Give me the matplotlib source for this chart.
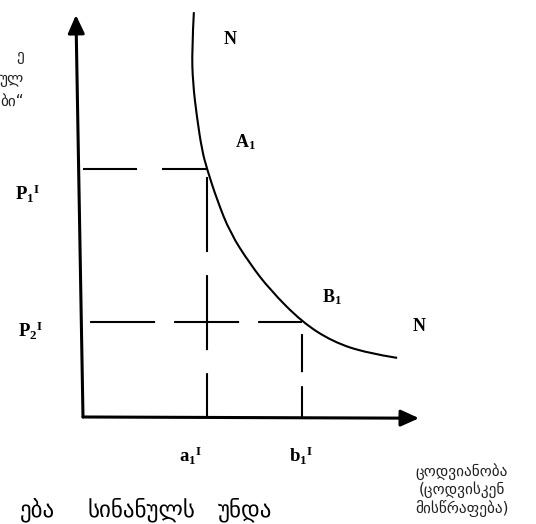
import matplotlib
matplotlib.use('Agg')
import matplotlib.pyplot as plt
from matplotlib.path import Path
from matplotlib.patches import PathPatch

# demand-like curve N (axis units 0..100)
curve_x = [33.0, 32.4, 32.7, 33.9, 35.4, 36.9, 39.9, 43.8, 49.7, 55.7, 65.2, 74.4, 84.5, 93.5]
curve_y = [100.7, 91.3, 83.1, 74.6, 66.4, 61.7, 54.0, 45.8, 38.1, 31.6, 23.6, 18.7, 15.9, 14.7]

# the two marked points on the curve
a1, p1 = 36.9, 61.7
b1, p2 = 65.2, 23.6

# axis end points (the y axis leans a little)
y_axis_top = (-2.1, 100)
x_axis_end = (100, -0.3)

# texts
top_left_lines = ['ე', 'ულ', 'ბი“']
x_caption = ['ცოდვიანობა', '(ცოდვისკენ', 'მისწრაფება)']
bottom_words = ['ება', 'სინანულს', 'უნდა']

plt.rcParams['lines.scale_dashes'] = False
plt.rcParams['mathtext.fontset'] = 'custom'
plt.rcParams['mathtext.rm'] = 'Liberation Serif'
plt.rcParams['mathtext.bf'] = 'Liberation Serif:bold'

fig = plt.figure(figsize=(5.36, 5.24), dpi=100)
ax = fig.add_axes([0, 0, 1, 1])
ax.set_xlim(-24.70, 134.82)
ax.set_ylim(-26.62, 103.73)
ax.axis('off')

# axes with arrow heads
arrow = dict(arrowstyle='-|>,head_length=1.1,head_width=0.5', lw=2.2, color='black',
             shrinkA=0, shrinkB=0, mutation_scale=10)
ax.annotate('', xy=y_axis_top, xytext=(0, 0), arrowprops=arrow)
ax.annotate('', xy=x_axis_end, xytext=(0, 0), arrowprops=arrow)

# curve, drawn as a smooth quadratic path through the read points
pts = list(zip(curve_x, curve_y))
verts = [pts[0]]
codes = [Path.MOVETO]
for i in range(1, len(pts) - 1):
    if i < len(pts) - 2:
        end = ((pts[i][0] + pts[i + 1][0]) / 2, (pts[i][1] + pts[i + 1][1]) / 2)
    else:
        end = pts[-1]
    verts += [pts[i], end]
    codes += [Path.CURVE3, Path.CURVE3]
ax.add_patch(PathPatch(Path(verts, codes), facecolor='none', edgecolor='black', lw=1.5))

# dashed guide lines
ax.plot([0, a1], [p1, p1], color='black', lw=1.5, linestyle=(0, (38.9, 18)))
ax.plot([0, b1], [p2, p2], color='black', lw=1.5, linestyle=(55.4, (46.8, 13.7)))
ax.plot([a1, a1], [p1, 0], color='black', lw=1.5, linestyle=(64.8, (54, 16.6)))
ax.plot([b1, b1], [p2, 0], color='black', lw=1.5, linestyle=(28.8, (27.4, 10.1)))

# labels
serif_bold = dict(family='Liberation Serif', weight='bold', fontsize=13)
ax.text(43.8, 93.8, 'N', ha='center', va='center', **serif_bold)
ax.text(100, 22.6, 'N', ha='center', va='center', **serif_bold)
ax.text(45.2, 68.4, r'$\mathbf{A_1}$', ha='left', va='center', fontsize=13)
ax.text(71.1, 29.9, r'$\mathbf{B_1}$', ha='left', va='center', fontsize=13)
ax.text(-20.2, 55.6, r'$\mathbf{{P_1}^{I}}$', ha='left', va='center', fontsize=13.5)
ax.text(-19.3, 21.3, r'$\mathbf{{P_2}^{I}}$', ha='left', va='center', fontsize=13.5)
ax.text(a1 - 4.8, -9.6, r'$\mathbf{{a_1}^{I}}$', ha='center', va='center', fontsize=13.5)
ax.text(b1 - 0.3, -9.6, r'$\mathbf{{b_1}^{I}}$', ha='center', va='center', fontsize=13.5)

# georgian notes
for i, line in enumerate(top_left_lines):
    ax.text(-17.6, 89.6 - i * 5.6, line, ha='right', va='center', family='DejaVu Sans',
            fontsize=11, color='#222222')
for i, line in enumerate(x_caption):
    ax.text(112.8, -13.7 - i * 4.5, line, ha='center', va='center', family='DejaVu Sans',
            fontsize=11, color='#222222')
for word, xc in zip(bottom_words, [-13.5, 17.3, 48.2]):
    ax.text(xc, -23.1, word, ha='center', va='center', family='DejaVu Sans', fontsize=16.5)

fig.savefig('out.png', dpi=100)
